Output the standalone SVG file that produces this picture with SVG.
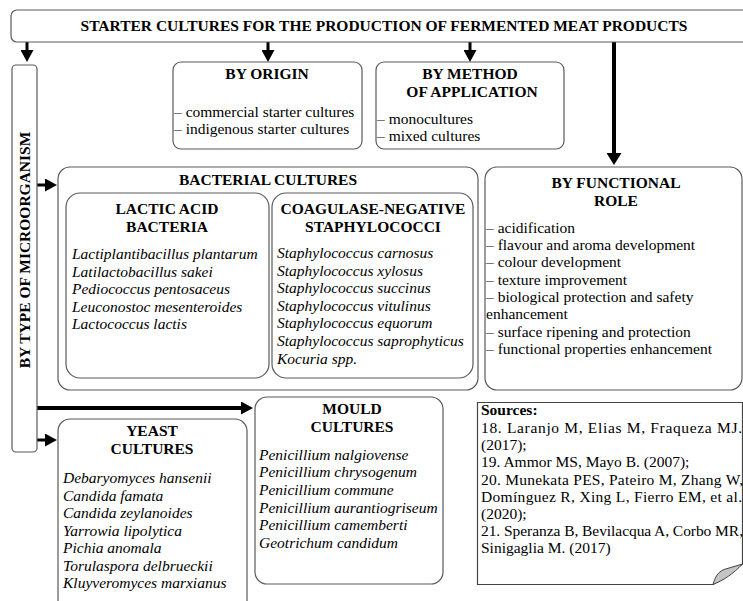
<svg xmlns="http://www.w3.org/2000/svg" width="743" height="601" viewBox="0 0 743 601">
<style>
text{font-family:"Liberation Serif","Times New Roman",serif;font-size:15.5px;fill:#000}
.b{font-weight:bold}
.h{font-weight:bold;text-anchor:middle}
.i{font-style:italic}
.box{fill:#fff;stroke:#5a5a5a;stroke-width:1.2}
.con{stroke:#000;fill:none}
</style>
<defs>
<marker id="ah" viewBox="0 0 12 13" refX="0" refY="6.5" markerWidth="12" markerHeight="13" orient="auto" markerUnits="userSpaceOnUse"><path d="M0,0 L12,6.5 L0,13 z" fill="#000"/></marker>
<marker id="ahL" viewBox="0 0 12 15" refX="0" refY="7.5" markerWidth="12" markerHeight="15" orient="auto" markerUnits="userSpaceOnUse"><path d="M0,0 L12,7.5 L0,15 z" fill="#000"/></marker>
</defs>
<rect width="743" height="601" fill="#fff"/>

<g id="connectors">
<path class="con" stroke-width="3" d="M27,42 V50" marker-end="url(#ah)"/>
<path class="con" stroke-width="3" d="M268,42 V50" marker-end="url(#ah)"/>
<path class="con" stroke-width="3" d="M470,42 V50" marker-end="url(#ah)"/>
<path class="con" stroke-width="4" d="M614,42 V153" marker-end="url(#ahL)"/>
<path class="con" stroke-width="4" d="M37,408 H241" marker-end="url(#ah)"/>
<path class="con" stroke-width="3" d="M37,185 H45" marker-end="url(#ah)"/>
<path class="con" stroke-width="3" d="M37,440 H45" marker-end="url(#ah)"/>
</g>

<g id="title">
<rect class="box" x="11" y="10" width="745" height="32" rx="6"/>
<text class="h" x="384" y="31">STARTER CULTURES FOR THE PRODUCTION OF FERMENTED MEAT PRODUCTS</text>
</g>

<g id="by-type">
<rect class="box" x="12" y="65" width="25" height="387" rx="4"/>
<text class="h" transform="translate(30,250) rotate(-90)">BY TYPE OF MICROORGANISM</text>
</g>

<g id="by-origin">
<rect class="box" x="173" y="62" width="189" height="87" rx="8"/>
<text class="h" x="267" y="79">BY ORIGIN</text>
<text x="174" y="117">– commercial starter cultures</text>
<text x="174" y="134">– indigenous starter cultures</text>
</g>

<g id="by-method">
<rect class="box" x="376" y="62" width="188" height="87" rx="8"/>
<text class="h" x="470" y="79">BY METHOD</text>
<text class="h" x="472" y="97">OF APPLICATION</text>
<text x="377" y="124">– monocultures</text>
<text x="377" y="141">– mixed cultures</text>
</g>

<g id="bacterial">
<rect class="box" x="58" y="167" width="420" height="223" rx="12"/>
<text class="h" x="268" y="185">BACTERIAL CULTURES</text>
</g>

<g id="lab">
<rect class="box" x="66" y="193" width="203" height="185" rx="14"/>
<text class="h" x="167" y="214">LACTIC ACID</text>
<text class="h" x="167" y="232">BACTERIA</text>
<text class="i" x="72" y="259">Lactiplantibacillus plantarum</text>
<text class="i" x="72" y="277">Latilactobacillus sakei</text>
<text class="i" x="72" y="294">Pediococcus pentosaceus</text>
<text class="i" x="72" y="312">Leuconostoc mesenteroides</text>
<text class="i" x="72" y="329">Lactococcus lactis</text>
</g>

<g id="cns">
<rect class="box" x="272" y="193" width="201" height="185" rx="14"/>
<text class="h" x="373" y="214">COAGULASE-NEGATIVE</text>
<text class="h" x="373" y="232">STAPHYLOCOCCI</text>
<text class="i" x="277" y="258">Staphylococcus carnosus</text>
<text class="i" x="277" y="276">Staphylococcus xylosus</text>
<text class="i" x="277" y="293">Staphylococcus succinus</text>
<text class="i" x="277" y="311">Staphylococcus vitulinus</text>
<text class="i" x="277" y="328">Staphylococcus equorum</text>
<text class="i" x="277" y="346">Staphylococcus saprophyticus</text>
<text class="i" x="277" y="364">Kocuria spp.</text>
</g>

<g id="functional">
<rect class="box" x="485" y="167" width="257" height="223" rx="12"/>
<text class="h" x="616" y="188">BY FUNCTIONAL</text>
<text class="h" x="616" y="206">ROLE</text>
<text x="486" y="233">– acidification</text>
<text x="486" y="250">– flavour and aroma development</text>
<text x="486" y="267">– colour development</text>
<text x="486" y="285">– texture improvement</text>
<text x="486" y="302">– biological protection and safety</text>
<text x="486" y="319">enhancement</text>
<text x="486" y="337">– surface ripening and protection</text>
<text x="486" y="354">– functional properties enhancement</text>
</g>

<g id="yeast">
<rect class="box" x="58" y="419" width="189" height="200" rx="12"/>
<text class="h" x="152" y="436">YEAST</text>
<text class="h" x="152" y="454">CULTURES</text>
<text class="i" x="63" y="483">Debaryomyces hansenii</text>
<text class="i" x="63" y="501">Candida famata</text>
<text class="i" x="63" y="518">Candida zeylanoides</text>
<text class="i" x="63" y="536">Yarrowia lipolytica</text>
<text class="i" x="63" y="553">Pichia anomala</text>
<text class="i" x="63" y="571">Torulaspora delbrueckii</text>
<text class="i" x="63" y="588">Kluyveromyces marxianus</text>
</g>

<g id="mould">
<rect class="box" x="255" y="397" width="188" height="187" rx="12"/>
<text class="h" x="352" y="414">MOULD</text>
<text class="h" x="352" y="432">CULTURES</text>
<text class="i" x="259" y="460">Penicillium nalgiovense</text>
<text class="i" x="259" y="477">Penicillium chrysogenum</text>
<text class="i" x="259" y="495">Penicillium commune</text>
<text class="i" x="259" y="513">Penicillium aurantiogriseum</text>
<text class="i" x="259" y="530">Penicillium camemberti</text>
<text class="i" x="259" y="548">Geotrichum candidum</text>
</g>

<g id="sources">
<path d="M477.5,402.5 H742.5 V564 L713,584.5 H477.5 Z" fill="#fff" stroke="#444" stroke-width="1.2"/>
<path d="M713,584.5 C715,577 718,572 724,569.5 L742.5,564 C733,574 724,580 713,584.5 Z" fill="#c4c4c4" stroke="#444" stroke-width="1"/>
<text class="b" x="481" y="415">Sources:</text>
<text x="481" y="433" textLength="261" lengthAdjust="spacing">18. Laranjo M, Elias M, Fraqueza MJ.</text>
<text x="481" y="450">(2017);</text>
<text x="481" y="467">19. Ammor MS, Mayo B. (2007);</text>
<text x="481" y="485" textLength="262" lengthAdjust="spacing">20. Munekata PES, Pateiro M, Zhang W,</text>
<text x="481" y="502" textLength="261" lengthAdjust="spacing">Domínguez R, Xing L, Fierro EM, et al.</text>
<text x="481" y="519">(2020);</text>
<text x="481" y="536" textLength="262" lengthAdjust="spacing">21. Speranza B, Bevilacqua A, Corbo MR,</text>
<text x="481" y="553">Sinigaglia M. (2017)</text>
</g>
</svg>
